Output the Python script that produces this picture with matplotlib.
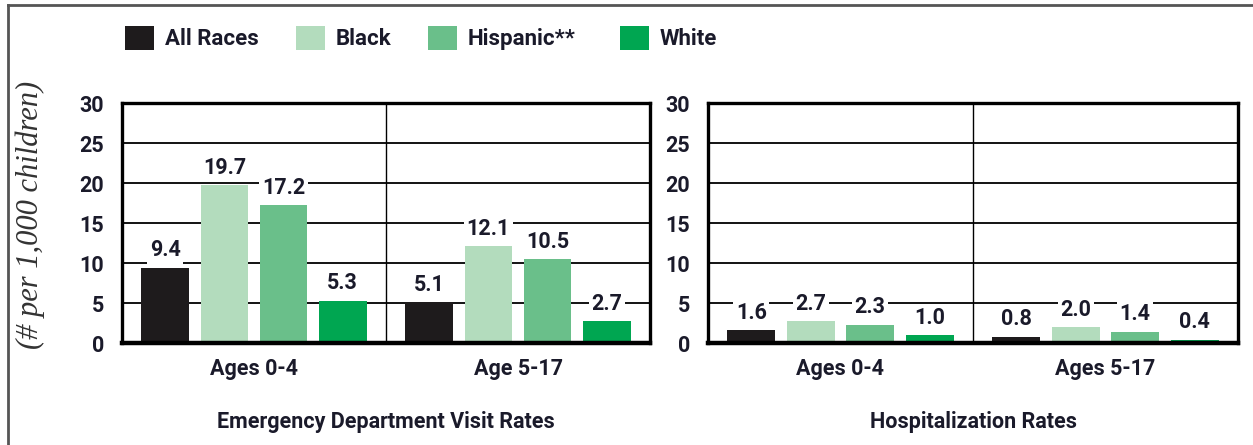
import matplotlib
matplotlib.use("Agg")
import matplotlib.pyplot as plt
from matplotlib.patches import Patch
from matplotlib.lines import Line2D
from matplotlib import font_manager
import numpy as np

# ---- data ----
groups = ["All Races", "Black", "Hispanic**", "White"]
colors = ["#1e1b1c", "#b3dcbd", "#6abf8a", "#00a651"]
ed_ticklabels = ["Ages 0-4", "Age 5-17"]
hosp_ticklabels = ["Ages 0-4", "Ages 5-17"]
ed_all = [9.4, 5.1]
ed_black = [19.7, 12.1]
ed_hisp = [17.2, 10.5]
ed_white = [5.3, 2.7]
hosp_all = [1.6, 0.8]
hosp_black = [2.7, 2.0]
hosp_hisp = [2.3, 1.4]
hosp_white = [1.0, 0.4]
yticks = [0, 5, 10, 15, 20, 25, 30]
ylabel = "(# per 1,000 children)"
titles = ["Emergency Department Visit Rates", "Hospitalization Rates"]

names = {f.name for f in font_manager.fontManager.ttflist}
FONT = ["Roboto", "DejaVu Sans"]
FS = 15.5 if "Roboto" in names else 13
TXT = "#1a1a2a"

W, H = 1253, 445
fig = plt.figure(figsize=(W / 100, H / 100), dpi=100)

def axrect(x0, x1, y0, y1):
    return [x0 / W, 1 - y1 / H, (x1 - x0) / W, (y1 - y0) / H]

ax1 = fig.add_axes(axrect(122, 650, 103, 343))
ax2 = fig.add_axes(axrect(708, 1238, 103, 343))

def draw(ax, series, ticklabels, title):
    x = np.arange(len(ticklabels))
    ax.set_xlim(-0.5, 1.5)
    ax.set_ylim(0, 30)
    for yv in yticks[1:-1]:
        ax.axhline(yv, color="black", lw=1.3, zorder=1)
    ax.axvline(0.5, color="black", lw=1.0, zorder=1)
    step = 0.224
    width = 0.181
    for i, (vals, c) in enumerate(zip(series, colors)):
        pos = x + (i - 1.5) * step
        bars = ax.bar(pos, vals, width=width, color=c, zorder=2)
        for b, v in zip(bars, vals):
            ax.annotate(f"{v:.1f}", (b.get_x() + b.get_width() / 2, v),
                        xytext=(0, 12.5), textcoords="offset points",
                        ha="center", va="center", fontsize=FS,
                        fontweight="bold", family=FONT,
                        color=TXT, zorder=3,
                        bbox=dict(boxstyle="square,pad=0.12", fc="white", ec="none"))
    ax.set_yticks(yticks)
    ax.set_yticklabels([str(t) for t in yticks], fontsize=FS, fontweight="bold",
                       family=FONT, color=TXT)
    ax.set_xticks(x)
    ax.set_xticklabels(ticklabels, fontsize=FS, fontweight="bold",
                       family=FONT, color=TXT)
    ax.tick_params(axis="both", length=0)
    ax.tick_params(axis="y", pad=13)
    ax.tick_params(axis="x", pad=11)
    for s in ["top", "left", "right"]:
        ax.spines[s].set_linewidth(2.4)
    ax.spines["bottom"].set_linewidth(3.2)
    for s in ax.spines.values():
        s.set_zorder(4)
    ax.text(0.5, -0.33, title, transform=ax.transAxes, ha="center", va="center",
            fontsize=FS, fontweight="bold", family=FONT, color=TXT)

draw(ax1, [ed_all, ed_black, ed_hisp, ed_white], ed_ticklabels, titles[0])
draw(ax2, [hosp_all, hosp_black, hosp_hisp, hosp_white], hosp_ticklabels, titles[1])

fig.text(30 / W, 1 - 215 / H, ylabel, rotation=90, ha="center", va="center",
         fontsize=22, style="italic", family="Liberation Serif", color="#333333")

# legend: one entry per legend so each square sits where the reference puts it
legend_x = [125, 296, 428, 620]
for name, c, lx in zip(groups, colors, legend_x):
    leg = fig.legend([Patch(facecolor=c, edgecolor="none")], [name],
                     loc="center left", bbox_to_anchor=(lx / W, 1 - 38 / H),
                     frameon=False, handlelength=1.3, handleheight=1.3,
                     handletextpad=0.5, borderpad=0, borderaxespad=0,
                     prop=dict(family=FONT, weight="bold", size=FS + 0.5))
    for t in leg.get_texts():
        t.set_color(TXT)

# outer frame
fig.add_artist(Line2D([8 / W, 8 / W], [0, 1 - 5 / H], transform=fig.transFigure,
                      color="#555555", lw=2))
fig.add_artist(Line2D([8 / W, 1], [1 - 5 / H, 1 - 5 / H], transform=fig.transFigure,
                      color="#555555", lw=2))

fig.savefig("out.png", dpi=100)
